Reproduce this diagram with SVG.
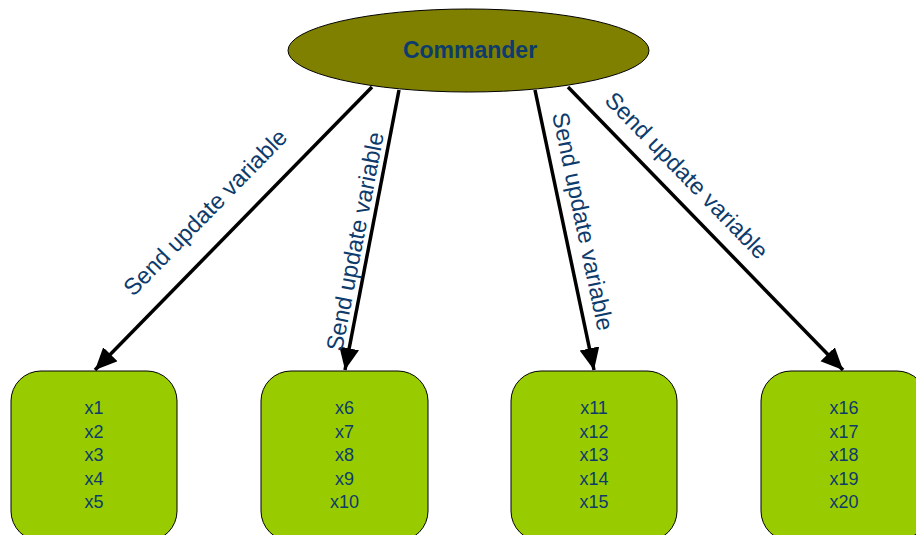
<svg xmlns="http://www.w3.org/2000/svg" width="916" height="535" viewBox="0 0 916 535">
  <defs>
    <marker id="arrow" markerUnits="userSpaceOnUse" markerWidth="24" markerHeight="22" refX="22" refY="10" orient="auto">
      <path d="M0,0 L22,10 L0,20 Z" fill="#000"/>
    </marker>
    <style>
      .edge { stroke: #000; stroke-width: 3.5; fill: none; marker-end: url(#arrow); }
      .label { font-family: "Liberation Sans", Arial, sans-serif; font-size: 23.5px; fill: #0d3b6c; text-anchor: middle; }
      .box { fill: #99cc00; stroke: #000; stroke-width: 1; }
      .items { font-family: "Liberation Sans", Arial, sans-serif; font-size: 18px; fill: #0d3b6c; text-anchor: middle; }
    </style>
  </defs>

  <g id="connectors">
    <line class="edge" x1="372" y1="87" x2="95" y2="370"/>
    <line class="edge" x1="399" y1="90" x2="345" y2="370"/>
    <line class="edge" x1="535" y1="90" x2="594" y2="370"/>
    <line class="edge" x1="568" y1="87" x2="843" y2="370"/>
    <text class="label" transform="translate(211 218) rotate(-45.6)">Send update variable</text>
    <text class="label" transform="translate(363 243) rotate(-79.1)">Send update variable</text>
    <text class="label" transform="translate(575 223) rotate(78.1)">Send update variable</text>
    <text class="label" transform="translate(681 181) rotate(45.8)">Send update variable</text>
  </g>

  <g id="commander">
    <ellipse cx="468.5" cy="50.5" rx="180.5" ry="41.5" fill="#808000" stroke="#000" stroke-width="1"/>
    <text x="470" y="58" font-family="Liberation Sans, Arial, sans-serif" font-size="23" font-weight="bold" fill="#0d3b6c" text-anchor="middle">Commander</text>
  </g>

  <g id="group1">
    <rect class="box" x="11" y="371" width="166" height="170" rx="30" ry="30"/>
    <text class="items" x="94"><tspan x="94" y="414">x1</tspan><tspan x="94" y="437.5">x2</tspan><tspan x="94" y="461">x3</tspan><tspan x="94" y="484.5">x4</tspan><tspan x="94" y="508">x5</tspan></text>
  </g>

  <g id="group2">
    <rect class="box" x="261" y="371" width="167" height="170" rx="30" ry="30"/>
    <text class="items" x="344.5"><tspan x="344.5" y="414">x6</tspan><tspan x="344.5" y="437.5">x7</tspan><tspan x="344.5" y="461">x8</tspan><tspan x="344.5" y="484.5">x9</tspan><tspan x="344.5" y="508">x10</tspan></text>
  </g>

  <g id="group3">
    <rect class="box" x="511" y="371" width="166" height="170" rx="30" ry="30"/>
    <text class="items" x="594"><tspan x="594" y="414">x11</tspan><tspan x="594" y="437.5">x12</tspan><tspan x="594" y="461">x13</tspan><tspan x="594" y="484.5">x14</tspan><tspan x="594" y="508">x15</tspan></text>
  </g>

  <g id="group4">
    <rect class="box" x="761" y="371" width="166" height="170" rx="30" ry="30"/>
    <text class="items" x="844"><tspan x="844" y="414">x16</tspan><tspan x="844" y="437.5">x17</tspan><tspan x="844" y="461">x18</tspan><tspan x="844" y="484.5">x19</tspan><tspan x="844" y="508">x20</tspan></text>
  </g>
</svg>
